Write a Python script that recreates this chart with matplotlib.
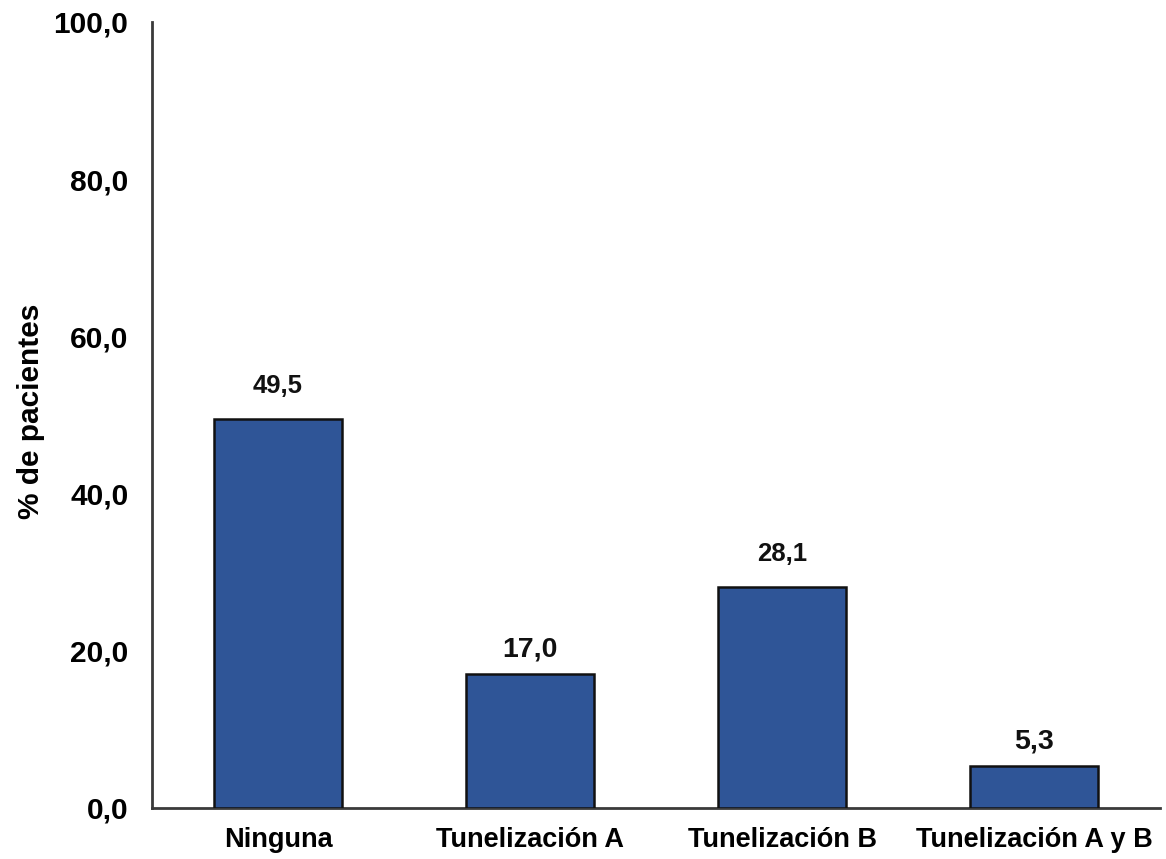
import numpy as np
import matplotlib
matplotlib.use("Agg")
import matplotlib.pyplot as plt

categorias = ["Ninguna", "Tunelización A", "Tunelización B", "Tunelización A y B"]
porcentajes = [49.5, 17.0, 28.1, 5.3]
yticks = [0, 20, 40, 60, 80, 100]

# tamaño de las etiquetas de valor (no todas iguales en la figura)
tam_etiqueta = [18.5, 20.5, 18.5, 20.5]

plt.rcParams['font.family'] = ['Liberation Sans', 'DejaVu Sans']
plt.rcParams['font.weight'] = 'bold'

fig = plt.figure(figsize=(11.66, 8.59), dpi=100)
ax = fig.add_axes([0.1304, 0.0594, 0.8645, 0.915])

x = np.arange(len(categorias))
ax.bar(x, porcentajes, width=0.508, color='#2F5597',
       edgecolor='#111111', linewidth=1.8, zorder=3)

for xi, v, fs in zip(x, porcentajes, tam_etiqueta):
    off = 19 if fs < 19 else 12.5
    ax.annotate(f"{v:.1f}".replace('.', ','), (xi, v), xytext=(0, off),
                textcoords='offset points', ha='center', va='baseline',
                fontsize=fs, fontweight='bold', color='#111111')

ax.set_xlim(-0.5, 3.5)
ax.set_ylim(0, 100)
ax.set_xticks(x)
ax.set_xticklabels(categorias, fontsize=19.5, fontweight='bold')
ax.set_yticks(yticks)
ax.set_yticklabels([f"{t:.1f}".replace('.', ',') for t in yticks],
                   fontsize=21.5, fontweight='bold')
ax.tick_params(axis='both', length=0)
ax.tick_params(axis='x', pad=14)
ax.tick_params(axis='y', pad=17)

for s in ['top', 'right']:
    ax.spines[s].set_visible(False)
for s in ['left', 'bottom']:
    ax.spines[s].set_color('#3a3a3a')
    ax.spines[s].set_linewidth(2)

ax.set_ylabel("% de pacientes", fontsize=21.5, fontweight='bold')
ax.yaxis.set_label_coords(-0.106, 0.505)

fig.savefig("out.png", dpi=100)
